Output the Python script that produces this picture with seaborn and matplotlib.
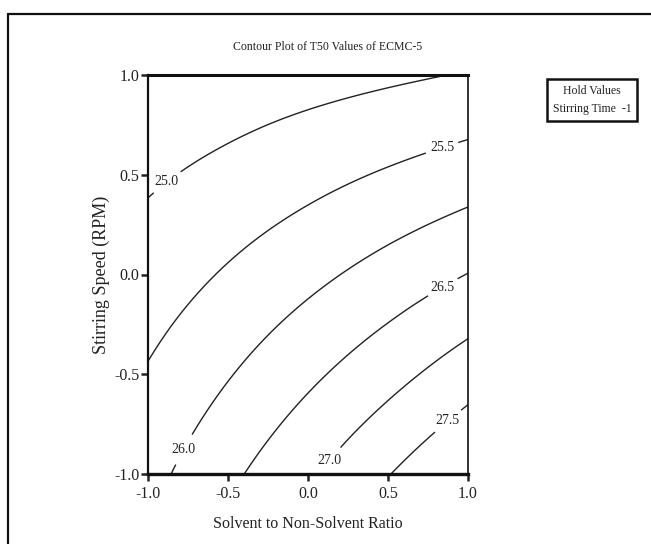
import numpy as np
import seaborn as sns
import matplotlib
matplotlib.use('Agg')
import matplotlib.pyplot as plt
from matplotlib.tri import Triangulation, UniformTriRefiner
from matplotlib.lines import Line2D

# grid (T50 values of ECMC-5, stirring time held at -1)
ratio_vals = [-1.0, -0.5, 0.0, 0.5, 1.0]   # Solvent to Non-Solvent Ratio (x)
speed_vals = [-1.0, -0.5, 0.0, 0.5, 1.0]   # Stirring Speed (y)
t50_speed_m10 = [25.84, 26.39, 26.93, 27.48, 28.02]
t50_speed_m05 = [25.54, 25.97, 26.40, 26.83, 27.27]
t50_speed_p00 = [25.23, 25.55, 25.87, 26.19, 26.51]
t50_speed_p05 = [24.93, 25.13, 25.34, 25.55, 25.76]
t50_speed_p10 = [24.62, 24.72, 24.82, 24.92, 25.03]
levels = [25.0, 25.5, 26.0, 26.5, 27.0, 27.5]
tick_vals = [-1.0, -0.5, 0.0, 0.5, 1.0]
tick_labels = ['-1.0', '-0.5', '0.0', '0.5', '1.0']
# where the contour labels sit
label_spots = [(-0.85, 0.43), (0.84, 0.63), (-0.77, -0.88),
               (0.84, -0.06), (0.13, -0.93), (0.87, -0.73)]

sns.set_theme(style='white')
plt.rcParams['font.family'] = ['Liberation Serif', 'DejaVu Serif']

fig = plt.figure(figsize=(6.51, 5.44), dpi=100)
ax = fig.add_axes([148/651, 1 - 474/544, 320/651, 399/544])

X, Y = np.meshgrid(ratio_vals, speed_vals)
Z = np.array([t50_speed_m10, t50_speed_m05, t50_speed_p00,
              t50_speed_p05, t50_speed_p10])
tri = Triangulation(X.ravel(), Y.ravel())
tri_fine, z_fine = UniformTriRefiner(tri).refine_field(Z.ravel(), subdiv=5)

cs = ax.tricontour(tri_fine, z_fine, levels=levels, colors='#222222', linewidths=1.0)
labels = ax.clabel(cs, manual=label_spots, inline=True, fmt='%.1f',
                   fontsize=10, colors='#222222', inline_spacing=5)
for t in labels:
    t.set_rotation(0)

ax.set_xlim(-1, 1)
ax.set_ylim(-1, 1)
ax.set_xticks(tick_vals)
ax.set_xticklabels(tick_labels)
ax.set_yticks(tick_vals)
ax.set_yticklabels(tick_labels)
ax.tick_params(axis='both', direction='out', length=5, width=1.8, pad=1,
               labelsize=11.5, colors='#222222', bottom=True, left=True)
ax.tick_params(axis='x', pad=4)

for side, w in [('top', 2.2), ('bottom', 2.4), ('left', 1.6), ('right', 1.2)]:
    ax.spines[side].set_visible(True)
    ax.spines[side].set_linewidth(w)
    ax.spines[side].set_color('#111111')

ax.set_xlabel('Solvent to Non-Solvent Ratio', fontsize=11.5, color='#222222', labelpad=10)
ax.set_ylabel('Stirring Speed (RPM)', fontsize=13, color='#222222', labelpad=3)

fig.text(328/651, 1 - 47/544, 'Contour Plot of T50 Values of ECMC-5',
         ha='center', va='center', fontsize=8.5, color='#222222')

# hold values box
fig.text(592/651, 1 - 100/544, 'Hold Values\nStirring Time  -1', ha='center', va='center',
         fontsize=8.5, color='#222222', linespacing=1.75,
         bbox=dict(boxstyle='square,pad=0.5', fc='white', ec='#111111', lw=1.8))

# outer frame
fig.add_artist(Line2D([8/651, 1], [1 - 14/544, 1 - 14/544], color='#111111', lw=1.6))
fig.add_artist(Line2D([8/651, 8/651], [1 - 14/544, 0], color='#111111', lw=1.6))

fig.savefig('out.png', dpi=100)
